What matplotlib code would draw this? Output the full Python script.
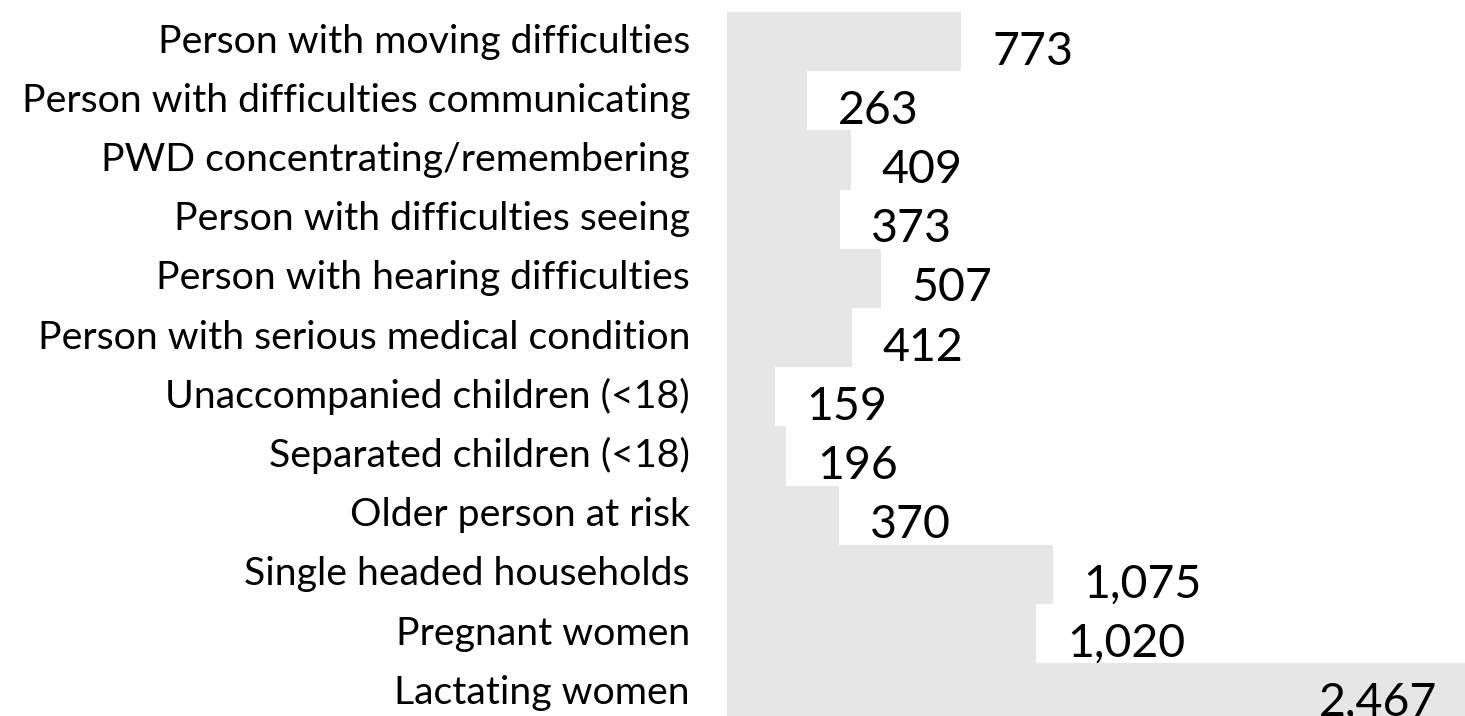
import matplotlib
matplotlib.use("Agg")
import matplotlib.pyplot as plt

categories = [
    "Person with moving difficulties",
    "Person with difficulties communicating",
    "PWD concentrating/remembering",
    "Person with difficulties seeing",
    "Person with hearing difficulties",
    "Person with serious medical condition",
    "Unaccompanied children (<18)",
    "Separated children (<18)",
    "Older person at risk",
    "Single headed households",
    "Pregnant women",
    "Lactating women",
]
values = [773, 263, 409, 373, 507, 412, 159, 196, 370, 1075, 1020, 2467]

plt.rcParams['font.family'] = ['Lato', 'DejaVu Sans']

W, H, DPI = 1465, 716, 100
fig = plt.figure(figsize=(W / DPI, H / DPI), dpi=DPI)
ax_left = 727 / W
ax_top = (H - 12) / H
ax = fig.add_axes([ax_left, 0, 1 - ax_left, ax_top])

n = len(categories)
y = list(range(n))
ax.barh(y, values, height=1.0, color="#e6e6e6", edgecolor="none")

xmax = (W - 727) / 0.303
ax.set_xlim(0, xmax)
row_px = 59.2
rows_visible = (H - 12) / row_px
ax.set_ylim(-0.5 + rows_visible, -0.5)

for yi, v in zip(y, values):
    txt = f"{v:,}"
    if v < xmax * 0.85:
        ax.annotate(txt, xy=(v, yi), xytext=(31, -23), textcoords="offset pixels",
                    ha="left", va="baseline", fontsize=33.5, color="black",
                    annotation_clip=False)
    else:
        ax.annotate(txt, xy=(xmax, yi), xytext=(-28, -23), textcoords="offset pixels",
                    ha="right", va="baseline", fontsize=33.5, color="black",
                    annotation_clip=False)

for yi, c in zip(y, categories):
    ax.annotate(c, xy=(0, yi), xytext=(-37, -11), textcoords="offset pixels",
                ha="right", va="baseline", fontsize=28.3, color="black",
                annotation_clip=False)

ax.set_xticks([])
ax.set_yticks([])
for s in ax.spines.values():
    s.set_visible(False)

fig.savefig("out.png", dpi=DPI)
